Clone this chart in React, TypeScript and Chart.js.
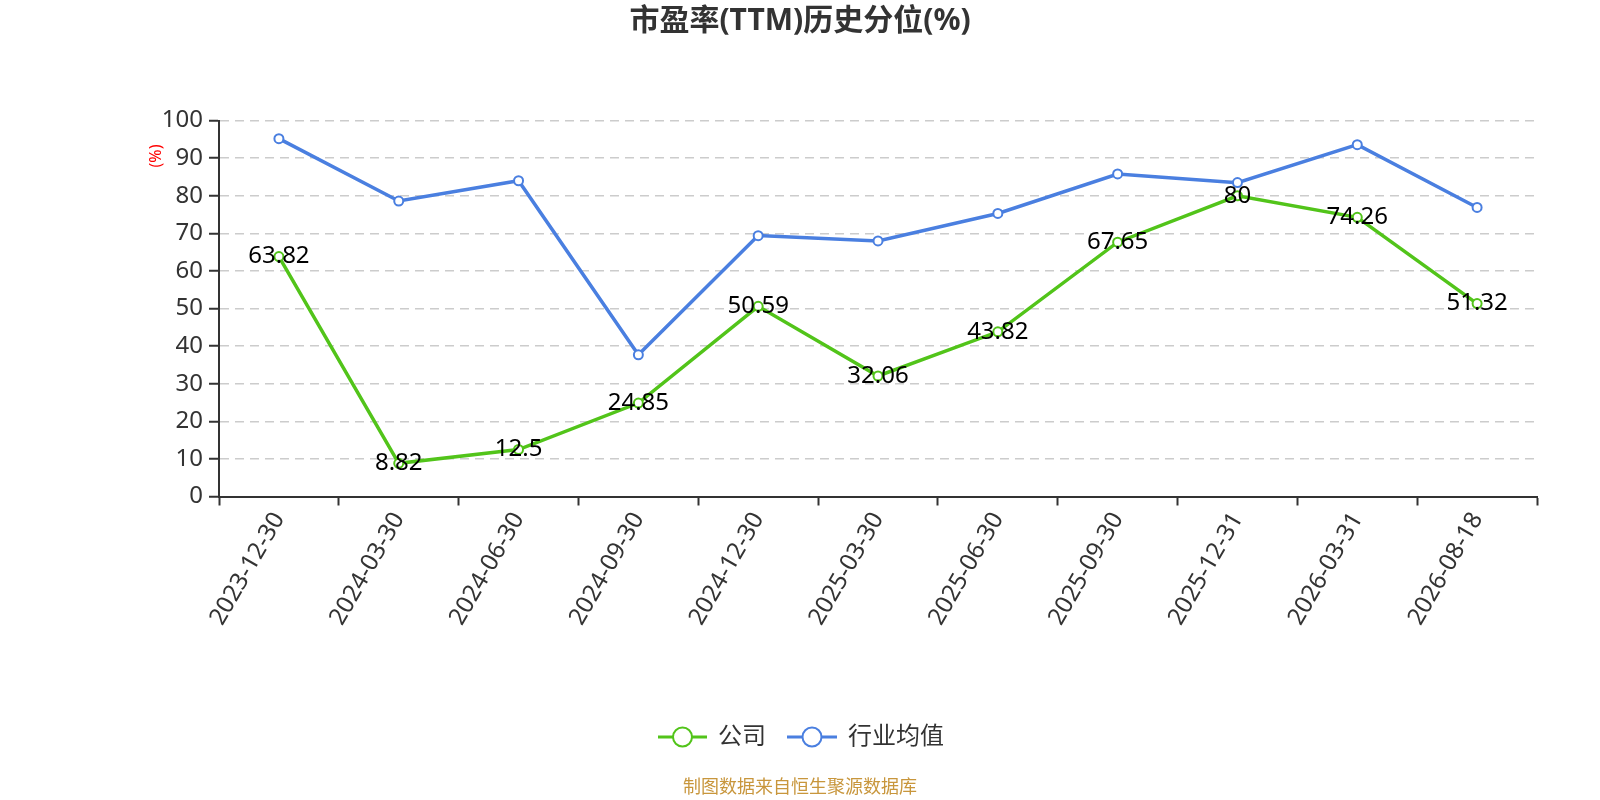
import React, { useEffect, useRef } from "react";
import { Chart, registerables, Plugin } from "chart.js";

Chart.register(...registerables);

const FONT = '"Noto Sans", "Noto Sans CJK SC", sans-serif';

const dates = [
  "2023-12-30",
  "2024-03-30",
  "2024-06-30",
  "2024-09-30",
  "2024-12-30",
  "2025-03-30",
  "2025-06-30",
  "2025-09-30",
  "2025-12-31",
  "2026-03-31",
  "2026-08-18"
];
const companyValues = [63.82, 8.82, 12.5, 24.85, 50.59, 32.06, 43.82, 67.65, 80, 74.26, 51.32];
const industryValues = [95.2, 78.6, 84.0, 37.7, 69.4, 68.0, 75.3, 85.8, 83.5, 93.6, 76.9];
const seriesNames = ["公司", "行业均值"];
const seriesColors = ["#52c41a", "#4a7fe0"];
const chartTitle = "市盈率(TTM)历史分位(%)";
const unitLabel = "(%)";
const sourceNote = "制图数据来自恒生聚源数据库";

// value labels, title, legend, unit label and source note
const overlayPlugin: Plugin<"line"> = {
  id: "overlay",
  afterDatasetsDraw(chart) {
    const { ctx } = chart;
    const meta = chart.getDatasetMeta(0);
    ctx.save();
    ctx.font = `24px ${FONT}`;
    ctx.fillStyle = "#000";
    ctx.textAlign = "center";
    ctx.textBaseline = "middle";
    meta.data.forEach((pt, i) => {
      ctx.fillText(String(companyValues[i]), pt.x, pt.y);
    });
    ctx.restore();
  },
  afterDraw(chart) {
    const { ctx } = chart;
    ctx.save();

    // title, centred on the page
    ctx.font = `bold 30px ${FONT}`;
    ctx.fillStyle = "#333";
    ctx.textAlign = "center";
    ctx.textBaseline = "middle";
    ctx.fillText(chartTitle, 800, 21);

    // unit
    ctx.save();
    ctx.translate(156, 156);
    ctx.rotate(-Math.PI / 2);
    ctx.font = `16px ${FONT}`;
    ctx.fillStyle = "#ff0000";
    ctx.fillText(unitLabel, 0, 0);
    ctx.restore();

    // legend
    const legendY = 737;
    const items = [
      { x0: 658, x1: 707, text: 718 },
      { x0: 787, x1: 837, text: 848 }
    ];
    ctx.font = `24px ${FONT}`;
    ctx.textAlign = "left";
    ctx.textBaseline = "middle";
    items.forEach((it, i) => {
      ctx.strokeStyle = seriesColors[i];
      ctx.lineWidth = 3;
      ctx.beginPath();
      ctx.moveTo(it.x0, legendY);
      ctx.lineTo(it.x1, legendY);
      ctx.stroke();
      ctx.beginPath();
      ctx.arc((it.x0 + it.x1) / 2, legendY, 9.5, 0, Math.PI * 2);
      ctx.fillStyle = "#fff";
      ctx.fill();
      ctx.lineWidth = 2;
      ctx.stroke();
      ctx.fillStyle = "#333";
      ctx.fillText(seriesNames[i], it.text, legendY);
    });

    // source
    ctx.font = `18px ${FONT}`;
    ctx.fillStyle = "#c8963c";
    ctx.textAlign = "center";
    ctx.fillText(sourceNote, 800, 788);
    ctx.restore();
  }
};

const App = () => {
  const canvasRef = useRef<HTMLCanvasElement>(null);

  useEffect(() => {
    if (!canvasRef.current) return;
    const chart = new Chart(canvasRef.current, {
      type: "line",
      data: {
        labels: dates,
        datasets: [
          {
            label: seriesNames[0],
            data: companyValues,
            borderColor: seriesColors[0],
            backgroundColor: "#fff",
            borderWidth: 3.5,
            pointRadius: 4.5,
            pointBorderWidth: 2,
            pointBackgroundColor: "#fff",
            pointBorderColor: seriesColors[0],
            tension: 0
          },
          {
            label: seriesNames[1],
            data: industryValues,
            borderColor: seriesColors[1],
            backgroundColor: "#fff",
            borderWidth: 3.5,
            pointRadius: 4.5,
            pointBorderWidth: 2,
            pointBackgroundColor: "#fff",
            pointBorderColor: seriesColors[1],
            tension: 0
          }
        ]
      },
      options: {
        animation: false,
        responsive: true,
        maintainAspectRatio: false,
        layout: { padding: { left: 159, right: 63, top: 0, bottom: 0 } },
        plugins: {
          legend: { display: false },
          tooltip: { enabled: false },
          // keeps the space at the top; the text itself is drawn by the overlay
          title: {
            display: true,
            text: " ",
            color: "rgba(0,0,0,0)",
            font: { family: FONT, size: 28, lineHeight: 1.2 },
            padding: { top: 4, bottom: 83 }
          }
        },
        scales: {
          x: {
            offset: true,
            grid: {
              offset: true,
              drawOnChartArea: false,
              drawTicks: true,
              tickLength: 9,
              tickColor: "#333",
              tickWidth: 2
            },
            border: { color: "#333", width: 2 },
            ticks: {
              color: "#333",
              font: { family: FONT, size: 24 },
              minRotation: 60,
              maxRotation: 60,
              autoSkip: false,
              padding: 2
            },
            afterFit(scale) {
              scale.height = 303.5;
            }
          },
          y: {
            min: 0,
            max: 100,
            ticks: {
              stepSize: 10,
              color: "#333",
              font: { family: FONT, size: 24 },
              padding: 6
            },
            grid: {
              color: "#cccccc",
              lineWidth: 1.5,
              tickLength: 10,
              tickColor: "#333",
              tickWidth: 2
            },
            border: { color: "#333", width: 2, dash: [9, 6] },
            afterFit(scale) {
              scale.width = 60;
            }
          }
        }
      },
      plugins: [overlayPlugin]
    });
    return () => {
      chart.destroy();
    };
  }, []);

  return (
    <div style={{ position: "fixed", left: 0, top: 0, width: 1600, height: 800, background: "#fff" }}>
      <canvas ref={canvasRef} />
    </div>
  );
};

export default App;
